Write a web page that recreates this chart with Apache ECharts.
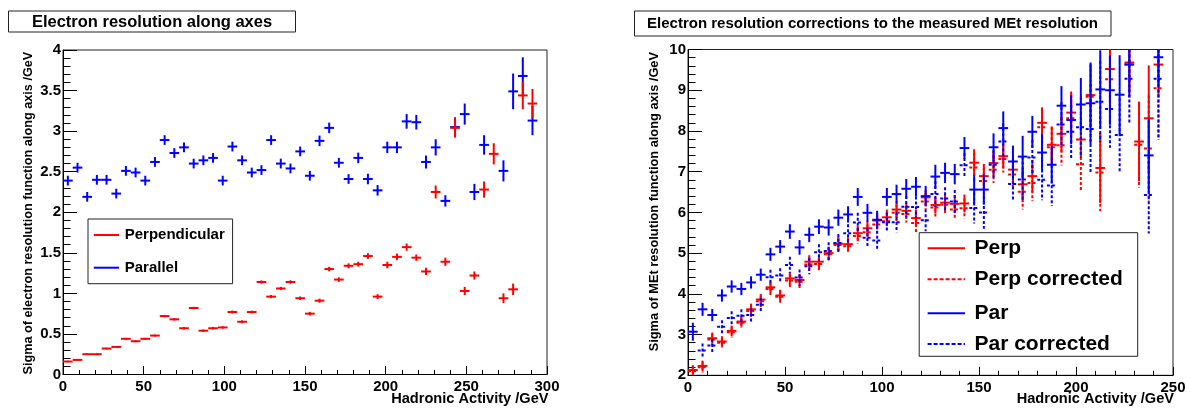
<!DOCTYPE html>
<html>
<head>
<meta charset="utf-8">
<script src="https://cdn.jsdelivr.net/npm/echarts@6/dist/echarts.min.js"></script>
<style>
  html, body { margin: 0; padding: 0; background: #fff; }
  #main { width: 1190px; height: 408px; }
</style>
</head>
<body>
<div id="main"></div>
<script>
// bin centres (left: 6 GeV bins, right: 5 GeV bins)
var leftX = [3, 9, 15, 21, 27, 33, 39, 45, 51, 57, 63, 69, 75, 81, 87, 93, 99, 105, 111, 117,
  123, 129, 135, 141, 147, 153, 159, 165, 171, 177, 183, 189, 195, 201, 207, 213, 219, 225, 231, 237,
  243, 249, 255, 261, 267, 273, 279, 285, 291];
var rightX = [2.5, 7.5, 12.5, 17.5, 22.5, 27.5, 32.5, 37.5, 42.5, 47.5, 52.5, 57.5, 62.5, 67.5, 72.5, 77.5,
  82.5, 87.5, 92.5, 97.5, 102.5, 107.5, 112.5, 117.5, 122.5, 127.5, 132.5, 137.5, 142.5, 147.5, 152.5,
  157.5, 162.5, 167.5, 172.5, 177.5, 182.5, 187.5, 192.5, 197.5, 202.5, 207.5, 212.5, 217.5, 222.5,
  227.5, 232.5, 237.5, 242.5];

// left panel: electron resolution along axes
var leftPerp = [0.16, 0.18, 0.25, 0.25, 0.32, 0.34, 0.44, 0.41, 0.44, 0.48, 0.72, 0.68, 0.57, 0.82, 0.54, 0.57,
  0.58, 0.77, 0.65, 0.77, 1.14, 0.96, 1.06, 1.14, 0.94, 0.75, 0.91, 1.30, 1.17, 1.34, 1.36, 1.46, 0.96,
  1.35, 1.45, 1.57, 1.44, 1.27, 2.25, 1.39, 3.04, 1.03, 1.22, 2.28, 2.72, 0.94, 1.05, 3.44, 3.34];
var leftPerpErr = [0.01, 0.01, 0.01, 0.01, 0.01, 0.01, 0.012, 0.012, 0.012, 0.012, 0.015, 0.015, 0.015, 0.015,
  0.015, 0.015, 0.015, 0.018, 0.018, 0.018, 0.02, 0.02, 0.02, 0.022, 0.022, 0.022, 0.025, 0.028, 0.028,
  0.03, 0.03, 0.035, 0.03, 0.04, 0.04, 0.045, 0.04, 0.045, 0.08, 0.05, 0.12, 0.05, 0.05, 0.1, 0.13, 0.06,
  0.07, 0.17, 0.18];
var leftPar = [2.39, 2.55, 2.19, 2.40, 2.40, 2.23, 2.51, 2.49, 2.39, 2.62, 2.89, 2.73, 2.80, 2.60, 2.64, 2.67,
  2.39, 2.81, 2.64, 2.49, 2.52, 2.89, 2.60, 2.54, 2.75, 2.45, 2.88, 3.04, 2.61, 2.41, 2.67, 2.41, 2.27,
  2.80, 2.80, 3.12, 3.11, 2.62, 2.80, 2.14, 3.05, 3.21, 2.25, 2.83, null, 2.51, 3.49, 3.68, 3.13];
var leftParErr = [0.06, 0.06, 0.06, 0.06, 0.06, 0.06, 0.06, 0.06, 0.06, 0.06, 0.06, 0.06, 0.06, 0.06, 0.06,
  0.06, 0.06, 0.06, 0.06, 0.06, 0.06, 0.06, 0.06, 0.06, 0.06, 0.06, 0.065, 0.065, 0.06, 0.06, 0.065,
  0.065, 0.065, 0.07, 0.07, 0.09, 0.09, 0.08, 0.1, 0.07, 0.12, 0.13, 0.1, 0.12, null, 0.13, 0.22, 0.23, 0.18];

// right panel: MEt resolution, raw and corrected
var rightPerp = [2.13, 2.23, 2.91, 2.83, 3.09, 3.32, 3.62, 3.86, 4.16, 3.96, 4.38, 4.34, 4.79, 4.79, 5.00,
  5.23, 5.22, 5.49, 5.61, 5.80, 5.88, 6.07, 6.04, 5.86, 6.37, 6.18, 6.24, 6.21, 6.22, 7.22, 6.89, 7.21,
  7.38, 7.05, 6.69, 6.89, 8.20, 7.66, 7.93, 8.45, 7.79, 8.88, 7.09, 9.52, null, 9.68, 7.74, 8.31, 9.63];
var rightPerpErr = [0.12, 0.13, 0.14, 0.13, 0.13, 0.13, 0.14, 0.14, 0.14, 0.14, 0.15, 0.15, 0.16, 0.16, 0.16,
  0.17, 0.17, 0.18, 0.18, 0.19, 0.19, 0.2, 0.2, 0.2, 0.18, 0.2, 0.22, 0.22, 0.22, 0.33, 0.3, 0.3, 0.3,
  0.33, 0.4, 0.4, 0.38, 0.45, 0.45, 0.52, 0.45, 0.75, 0.86, 0.8, null, 0.7, 0.98, 1.3, 0.8];
var rightPerpCorr = [2.10, 2.20, 2.88, 2.80, 3.06, 3.29, 3.58, 3.82, 4.12, 3.93, 4.33, 4.30, 4.72, 4.73, 4.97,
  5.20, 5.17, 5.42, 5.51, 5.70, 5.78, 5.99, 5.96, 5.74, 6.27, 6.12, 6.19, 6.07, 6.10, 7.10, 6.77, 7.05,
  7.31, 6.93, 6.51, 6.72, 8.09, 7.60, 7.65, 8.31, 7.18, 8.84, 6.98, 9.27, null, 9.63, 7.66, 7.57, 9.05];
var rightPerpCorrErr = [0.12, 0.13, 0.14, 0.13, 0.13, 0.13, 0.14, 0.14, 0.15, 0.15, 0.16, 0.16, 0.17, 0.17,
  0.17, 0.18, 0.18, 0.19, 0.19, 0.2, 0.2, 0.21, 0.21, 0.22, 0.2, 0.22, 0.24, 0.24, 0.25, 0.36, 0.33, 0.33,
  0.33, 0.36, 0.44, 0.44, 0.42, 0.5, 0.5, 0.58, 0.67, 0.8, 0.95, 1.1, null, 0.8, 1.05, 1.3, 1.2];
var rightPar = [3.07, 3.62, 3.48, 3.96, 4.18, 4.12, 4.28, 4.47, 4.97, 5.16, 5.53, 5.14, 5.45, 5.65, 5.63,
  5.87, 5.95, 6.38, 5.99, 5.82, 6.38, 6.45, 6.58, 6.63, 6.40, 6.88, 6.97, 6.94, 7.58, 6.56, 6.56, 7.60,
  8.07, 7.25, 7.37, 7.98, 7.47, 7.17, 8.62, 8.27, 8.65, 8.68, 9.02, 9.00, 8.89, 9.63, null, 7.40, 9.81];
var rightParErr = [0.22, 0.16, 0.15, 0.15, 0.15, 0.15, 0.15, 0.15, 0.16, 0.16, 0.18, 0.18, 0.18, 0.18, 0.2,
  0.2, 0.2, 0.22, 0.22, 0.22, 0.22, 0.23, 0.24, 0.24, 0.25, 0.29, 0.25, 0.25, 0.27, 0.35, 0.37, 0.34,
  0.41, 0.39, 0.51, 0.39, 0.45, 0.46, 0.48, 0.6, 0.65, 1.0, 0.96, 0.85, 0.97, 0.8, null, 0.9, 0.7];
var rightParCorr = [null, 2.61, 2.73, 3.19, 3.41, 3.46, 3.48, 3.73, 4.41, 4.45, 4.71, 4.40, 4.68, 5.02, 5.05,
  5.25, 5.49, 5.75, 5.38, 5.31, 5.76, 5.76, 6.14, 6.13, 5.81, 6.45, 6.34, 6.27, 7.16, 6.11, 6.00, 7.17,
  7.74, 6.70, 6.81, 7.35, 6.80, 6.66, 8.16, 7.98, 8.09, 8.05, 8.72, 8.54, 7.90, 9.28, null, 6.43, 9.28];
var rightParCorrErr = [null, 0.17, 0.16, 0.16, 0.16, 0.16, 0.16, 0.17, 0.18, 0.18, 0.2, 0.2, 0.2, 0.2, 0.22,
  0.22, 0.22, 0.24, 0.24, 0.24, 0.24, 0.25, 0.26, 0.26, 0.27, 0.32, 0.28, 0.28, 0.3, 0.38, 0.4, 0.37,
  0.45, 0.43, 0.56, 0.43, 0.5, 0.5, 0.55, 0.66, 0.75, 1.1, 1.0, 0.95, 0.9, 1.1, null, 0.95, 1.5];

var FONT = '"Liberation Sans", Arial, Helvetica, sans-serif';
var RED = '#ff0000', BLUE = '#0000ff';

function points(xs, ys, es) {
  var out = [];
  for (var i = 0; i < xs.length; i++) {
    if (ys[i] == null) continue;
    out.push([xs[i], ys[i], es[i]]);
  }
  return out;
}

// error-bar crosses: horizontal = bin width, vertical = +-error, clipped to the y range
function errSeries(name, data, axis, halfBin, ymin, ymax, color, dashed) {
  return {
    name: name,
    type: 'custom',
    xAxisIndex: axis,
    yAxisIndex: axis,
    silent: true,
    data: data,
    encode: { x: 0, y: 1 },
    renderItem: function (params, api) {
      var x = api.value(0), y = api.value(1), e = api.value(2);
      if (y < ymin || y > ymax) return;
      var l = api.coord([x - halfBin, y]);
      var r = api.coord([x + halfBin, y]);
      var t = api.coord([x, Math.min(y + e, ymax)]);
      var b = api.coord([x, Math.max(y - e, ymin)]);
      var dash = dashed ? [3, 2] : null;
      return {
        type: 'group',
        children: [
          { type: 'line', shape: { x1: l[0], y1: l[1], x2: r[0], y2: r[1] },
            style: { stroke: color, lineWidth: 2, lineDash: dash } },
          { type: 'line', shape: { x1: t[0], y1: t[1], x2: b[0], y2: b[1] },
            style: { stroke: color, lineWidth: 2, lineDash: dash } }
        ]
      };
    }
  };
}

function xAxisCfg(idx, max) {
  return {
    type: 'value', gridIndex: idx, min: 0, max: max, interval: 50,
    axisLine: { show: true, onZero: false, lineStyle: { color: '#000', width: 1 } },
    axisTick: { show: true, inside: true, length: 8.5, lineStyle: { color: '#000' } },
    minorTick: { show: true, splitNumber: 5, length: 4.5, lineStyle: { color: '#000' } },
    splitLine: { show: false },
    axisLabel: { color: '#000', fontFamily: FONT, fontWeight: 'bold', fontSize: 15, margin: 5 }
  };
}
function yAxisCfg(idx, min, max, interval) {
  return {
    type: 'value', gridIndex: idx, min: min, max: max, interval: interval,
    axisLine: { show: true, onZero: false, lineStyle: { color: '#000', width: 1 } },
    axisTick: { show: true, inside: true, length: 14, lineStyle: { color: '#000' } },
    minorTick: { show: true, splitNumber: 5, length: 7.5, lineStyle: { color: '#000' } },
    splitLine: { show: false },
    axisLabel: { color: '#000', fontFamily: FONT, fontWeight: 'bold', fontSize: 15, margin: 2 }
  };
}

function box(x, y, w, h) {
  return { type: 'rect', z: 100, shape: { x: x, y: y, width: w, height: h },
    style: { fill: '#fff', stroke: '#222', lineWidth: 1 } };
}
function label(text, x, y, size, align) {
  return { type: 'text', z: 101, x: x, y: y,
    style: { text: text, font: 'bold ' + size + 'px ' + FONT, fill: '#000',
      textAlign: align || 'left', textVerticalAlign: 'middle' } };
}
function vlabel(text, x, y, size) {
  return { type: 'text', z: 101, x: x, y: y, rotation: Math.PI / 2,
    style: { text: text, font: 'bold ' + size + 'px ' + FONT, fill: '#000',
      textAlign: 'right', textVerticalAlign: 'middle' } };
}
function legLine(x1, x2, y, color, dashed) {
  return { type: 'line', z: 101, shape: { x1: x1, y1: y, x2: x2, y2: y },
    style: { stroke: color, lineWidth: 2, lineDash: dashed ? [4, 2] : null } };
}

var myChart = echarts.init(document.getElementById('main'));

var option = {
  backgroundColor: '#fff',
  animation: false,
  grid: [
    { left: 63, right: 643, top: 50, bottom: 33.5, show: true, borderColor: '#222', borderWidth: 1 },
    { left: 688, right: 17, top: 49.5, bottom: 32.7, show: true, borderColor: '#222', borderWidth: 1 }
  ],
  xAxis: [xAxisCfg(0, 300), xAxisCfg(1, 250)],
  yAxis: [yAxisCfg(0, 0, 4, 0.5), yAxisCfg(1, 2, 10, 1)],
  series: [
    errSeries('Parallel', points(leftX, leftPar, leftParErr), 0, 3, 0, 4, BLUE, false),
    errSeries('Perpendicular', points(leftX, leftPerp, leftPerpErr), 0, 3, 0, 4, RED, false),
    errSeries('Perp', points(rightX, rightPerp, rightPerpErr), 1, 2.5, 2, 10, RED, false),
    errSeries('Perp corrected', points(rightX, rightPerpCorr, rightPerpCorrErr), 1, 2.5, 2, 10, RED, true),
    errSeries('Par', points(rightX, rightPar, rightParErr), 1, 2.5, 2, 10, BLUE, false),
    errSeries('Par corrected', points(rightX, rightParCorr, rightParCorrErr), 1, 2.5, 2, 10, BLUE, true)
  ],
  graphic: [
    // pad titles
    box(8.5, 11, 287, 21),
    label('Electron resolution along axes', 152, 22, 16.5, 'center'),
    box(634.5, 11, 476.5, 25),
    label('Electron resolution corrections to the measured MEt resolution', 872.5, 24, 15, 'center'),
    // axis titles
    vlabel('Sigma of electron resolution function along axis /GeV', 28.6, 51.7, 12.7),
    vlabel('Sigma of MEt resolution function along axis /GeV', 654, 52, 12.8),
    label('Hadronic Activity /GeV', 548.5, 399, 14.6, 'right'),
    label('Hadronic Activity /GeV', 1174, 399, 14.6, 'right'),
    // left legend
    box(88, 219, 144.6, 64.7),
    legLine(93.8, 119, 235, RED, false),
    label('Perpendicular', 124.7, 235, 15),
    legLine(93.8, 119, 267.7, BLUE, false),
    label('Parallel', 124.7, 267.7, 15),
    // right legend
    box(919.2, 232.7, 218.5, 123.6),
    legLine(927.6, 965, 248.3, RED, false),
    label('Perp', 974.5, 248.3, 21),
    legLine(927.6, 965, 279.3, RED, true),
    label('Perp corrected', 974.5, 279.3, 21),
    legLine(927.6, 965, 313.3, BLUE, false),
    label('Par', 974.5, 313.3, 21),
    legLine(927.6, 965, 344, BLUE, true),
    label('Par corrected', 974.5, 344, 21)
  ]
};

myChart.setOption(option);
</script>
</body>
</html>
